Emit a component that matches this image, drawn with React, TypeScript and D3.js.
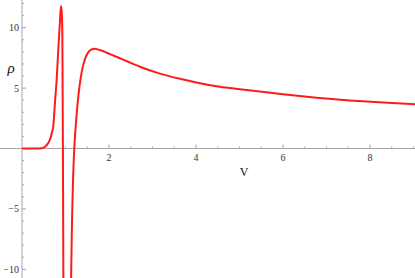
import React, { useEffect, useRef } from 'react';
import * as d3 from 'd3';

// left branch: from V=0 up to the first spike, then falling off the bottom
const vLeft = [0, 0.3, 0.45, 0.53, 0.6, 0.644, 0.68, 0.72, 0.76, 0.8, 0.834, 0.874, 0.897, 0.915, 0.927, 0.935, 0.94, 0.945, 0.952];
const rhoLeft = [0, 0, 0.02, 0.15, 0.43, 0.75, 1.2, 1.9, 3.9, 5.9, 8.15, 10.6, 11.8, 11.2, 9.55, 4.0, 0.45, -4.5, -12];

// right branch: coming back from below, peak near 1.66, slow decay
const vRight = [1.122, 1.13, 1.145, 1.16, 1.175, 1.19, 1.202, 1.25, 1.3, 1.35, 1.4, 1.45, 1.5, 1.55, 1.6, 1.66, 1.8, 1.95, 2.1, 2.25, 2.45, 2.71, 3.17, 3.63, 4.09, 4.55, 5.01, 5.47, 6.0, 6.77, 7.54, 8.31, 9.05];
const rhoRight = [-12.5, -10.5, -7.0, -4.4, -2.4, -0.9, 0, 2.55, 4.5, 5.85, 6.8, 7.42, 7.83, 8.07, 8.2, 8.25, 8.13, 7.93, 7.7, 7.47, 7.16, 6.77, 6.2, 5.77, 5.41, 5.12, 4.91, 4.71, 4.49, 4.21, 3.98, 3.8, 3.66];

const xTicks = [2, 4, 6, 8];
const yTicks = [-10, -5, 5, 10];

const W = 415;
const H = 278;

export default function App() {
  const svgRef = useRef<SVGSVGElement>(null);

  useEffect(() => {
    const svg = d3.select(svgRef.current);
    svg.selectAll('*').remove();

    const x = d3.scaleLinear().domain([0, 8]).range([22, 370]);
    const y = d3.scaleLinear().domain([-10, 10]).range([269.3, 27.7]);
    const x0 = x(0);
    const y0 = y(0);
    const axisColor = '#a6a6a6';
    const labelColor = '#333';

    // axes
    svg.append('line').attr('x1', 0).attr('x2', W).attr('y1', y0).attr('y2', y0)
      .attr('stroke', axisColor).attr('stroke-width', 1);
    svg.append('line').attr('x1', x0).attr('x2', x0).attr('y1', 0).attr('y2', H)
      .attr('stroke', axisColor).attr('stroke-width', 1);

    // x ticks (major every 2, minor every 0.5)
    const xMinor = d3.range(0.5, 9.01, 0.5).filter((v) => v % 2 !== 0);
    svg.append('g').selectAll('line').data(xMinor).enter().append('line')
      .attr('x1', (d) => x(d)).attr('x2', (d) => x(d))
      .attr('y1', y0).attr('y2', y0 - 2)
      .attr('stroke', axisColor);
    svg.append('g').selectAll('line').data(xTicks).enter().append('line')
      .attr('x1', (d) => x(d)).attr('x2', (d) => x(d))
      .attr('y1', y0).attr('y2', y0 - 4)
      .attr('stroke', axisColor);
    svg.append('g').selectAll('text').data(xTicks).enter().append('text')
      .attr('x', (d) => x(d)).attr('y', y0 + 12.5)
      .attr('text-anchor', 'middle')
      .attr('font-family', 'Liberation Serif, serif').attr('font-size', 10)
      .attr('fill', labelColor)
      .text((d) => d);

    // y ticks (major every 5, minor every 1)
    const yMinor = d3.range(-11, 13).filter((v) => v % 5 !== 0);
    svg.append('g').selectAll('line').data(yMinor).enter().append('line')
      .attr('x1', x0).attr('x2', x0 + 2)
      .attr('y1', (d) => y(d)).attr('y2', (d) => y(d))
      .attr('stroke', axisColor);
    svg.append('g').selectAll('line').data(yTicks).enter().append('line')
      .attr('x1', x0).attr('x2', x0 + 4)
      .attr('y1', (d) => y(d)).attr('y2', (d) => y(d))
      .attr('stroke', axisColor);
    svg.append('g').selectAll('text').data(yTicks).enter().append('text')
      .attr('x', x0 - 3).attr('y', (d) => y(d) + 3.5)
      .attr('text-anchor', 'end')
      .attr('font-family', 'Liberation Serif, serif').attr('font-size', 10)
      .attr('fill', labelColor)
      .text((d) => (d < 0 ? '\u2212' + Math.abs(d) : String(d)));

    // axis labels
    svg.append('text').attr('x', 11).attr('y', 73)
      .attr('text-anchor', 'middle')
      .attr('font-family', 'Liberation Serif, serif').attr('font-size', 15)
      .attr('font-style', 'italic').attr('fill', '#111')
      .text('\u03c1');
    svg.append('text').attr('x', 244).attr('y', 175.5)
      .attr('text-anchor', 'middle')
      .attr('font-family', 'Liberation Serif, serif').attr('font-size', 12)
      .attr('fill', '#111')
      .text('V');

    // curve
    const line = d3.line<[number, number]>()
      .x((d) => x(d[0]))
      .y((d) => y(d[1]))
      .curve(d3.curveMonotoneX);

    const branches: [number, number][][] = [
      vLeft.map((v, i) => [v, rhoLeft[i]]),
      vRight.map((v, i) => [v, rhoRight[i]]),
    ];
    branches.forEach((b) => {
      svg.append('path')
        .datum(b)
        .attr('d', line)
        .attr('fill', 'none')
        .attr('stroke', '#ff1a1a')
        .attr('stroke-width', 2)
        .attr('stroke-linejoin', 'round');
    });
  }, []);

  return (
    <svg
      ref={svgRef}
      width={W}
      height={H}
      style={{ position: 'fixed', left: 0, top: 0, background: '#fff' }}
    />
  );
}
